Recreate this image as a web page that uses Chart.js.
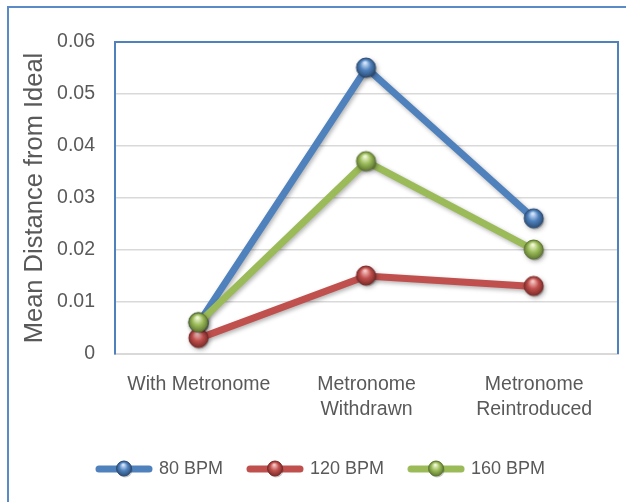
<!DOCTYPE html>
<html><head><meta charset="utf-8">
<script src="https://cdn.jsdelivr.net/npm/chart.js@4.4.1/dist/chart.umd.min.js"></script>
<style>html,body{margin:0;padding:0;background:#fff}#wrap{position:relative;width:626px;height:502px}</style>
</head><body><div id="wrap"><canvas id="c" width="626" height="502"></canvas></div>
<script>
// ---- data ----
const categories = ['With Metronome', ['Metronome', 'Withdrawn'], ['Metronome', 'Reintroduced']];
const seriesNames = ['80 BPM', '120 BPM', '160 BPM'];
const bpm80 = [0.006, 0.055, 0.026];
const bpm120 = [0.003, 0.015, 0.013];
const bpm160 = [0.006, 0.037, 0.020];
const yMin = 0, yMax = 0.06, yStep = 0.01;
const yTitle = 'Mean Distance from Ideal';

// ---- styles ----
const palette = [
  {main: '#4f81bd', light: '#d3e5fb', dark: '#2b4b73'},
  {main: '#c0504d', light: '#f6c6c4', dark: '#7a2a28'},
  {main: '#9bbb59', light: '#f0f9d6', dark: '#5d7531'}
];
Chart.defaults.font.family = "'Liberation Sans', Arial, sans-serif";

function drawSphere(g, cx, cy, r, p) {
  g.beginPath(); g.arc(cx + 1, cy + 1.5, r, 0, 2 * Math.PI);
  g.fillStyle = 'rgba(0,0,0,0.22)'; g.fill();
  const grad = g.createRadialGradient(cx - r * 0.1, cy - r * 0.5, r * 0.08, cx, cy, r * 1.05);
  grad.addColorStop(0, p.light); grad.addColorStop(0.5, p.main); grad.addColorStop(1, p.dark);
  g.beginPath(); g.arc(cx, cy, r, 0, 2 * Math.PI); g.fillStyle = grad; g.fill();
  g.lineWidth = 1; g.strokeStyle = p.dark; g.stroke();
}
function sphereCanvas(p, r) {
  const c = document.createElement('canvas');
  const s = Math.ceil(r * 2 + 5); c.width = c.height = s;
  drawSphere(c.getContext('2d'), s / 2 - 0.5, s / 2 - 0.5, r, p);
  return c;
}
function legendCanvas(p) {
  const c = document.createElement('canvas');
  c.width = 58; c.height = 22;
  const g = c.getContext('2d');
  g.lineCap = 'round'; g.lineWidth = 7; g.strokeStyle = p.main;
  g.beginPath(); g.moveTo(4, 11); g.lineTo(54, 11); g.stroke();
  drawSphere(g, 29, 10.5, 7.5, p);
  return c;
}

const seriesValues = [bpm80, bpm120, bpm160];
const datasets = seriesValues.map((vals, i) => ({
  label: seriesNames[i],
  data: vals,
  borderColor: palette[i].main,
  backgroundColor: palette[i].main,
  borderWidth: 7,
  tension: 0,
  fill: false,
  pointStyle: sphereCanvas(palette[i], 9.5),
  pointRadius: 10,
  pointHoverRadius: 10,
  order: 3 - i
}));

const frame = {
  id: 'frame',
  afterLayout(chart) {
    if (chart.legend) { chart.legend.left += 4; chart.legend.right += 4; }
  },
  beforeDraw(chart) {
    const ctx = chart.ctx;
    ctx.save();
    ctx.strokeStyle = '#5b8bc7'; ctx.lineWidth = 2;
    ctx.beginPath(); ctx.moveTo(8, 502); ctx.lineTo(8, 7); ctx.lineTo(626, 7); ctx.stroke();
    ctx.restore();
  },
  beforeDatasetsDraw(chart) {
    const {ctx, chartArea: a} = chart;
    ctx.save();
    ctx.strokeStyle = '#4f81bd'; ctx.lineWidth = 2;
    ctx.beginPath(); ctx.moveTo(a.left, a.top); ctx.lineTo(a.right, a.top); ctx.lineTo(a.right, a.bottom); ctx.stroke();
    ctx.restore();
    ctx.save();
    ctx.shadowColor = 'rgba(0,0,0,0.3)'; ctx.shadowBlur = 4; ctx.shadowOffsetX = 1.5; ctx.shadowOffsetY = 2;
  },
  afterDatasetsDraw(chart) { chart.ctx.restore(); }
};

new Chart(document.getElementById('c'), {
  type: 'line',
  data: {labels: categories, datasets},
  plugins: [frame],
  options: {
    responsive: false, animation: false, devicePixelRatio: 1,
    layout: {autoPadding: false, padding: {left: 17, top: 42, right: 8, bottom: 14}},
    plugins: {
      tooltip: {enabled: false},
      legend: {
        position: 'bottom',
        labels: {
          usePointStyle: true, pointStyleWidth: 52,
          font: {size: 18}, color: '#595959', padding: 26,
          generateLabels(chart) {
            const items = Chart.defaults.plugins.legend.labels.generateLabels(chart);
            items.forEach(it => { it.pointStyle = legendCanvas(palette[it.datasetIndex]); });
            return items;
          },
          sort: (a, b) => a.datasetIndex - b.datasetIndex
        }
      }
    },
    scales: {
      x: {
        offset: true,
        grid: {display: false},
        border: {display: true, color: '#d9d9d9', width: 2},
        ticks: {font: {size: 19.5, lineHeight: 1.3}, color: '#595959', padding: 10, maxRotation: 0, autoSkip: false},
        afterFit(s) { s.height = 80; s.paddingLeft = 0; s.paddingRight = 0; }
      },
      y: {
        min: yMin, max: yMax,
        ticks: {stepSize: yStep, font: {size: 19.5}, color: '#595959', padding: 20},
        grid: {color: '#d9d9d9', lineWidth: 1.5, drawTicks: false},
        border: {display: true, color: '#4f81bd', width: 2},
        title: {display: true, text: yTitle, font: {size: 25.5}, color: '#595959', padding: {top: 3, bottom: 0}},
        afterFit(s) { s.width = 98; }
      }
    }
  }
});
</script>
</body></html>
